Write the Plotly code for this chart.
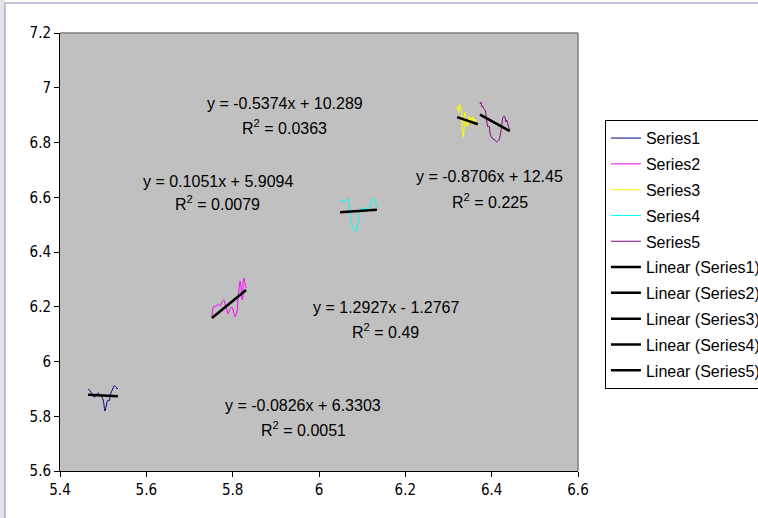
import plotly.graph_objects as go

# ---------------- data ----------------
series_names = ["Series1", "Series2", "Series3", "Series4", "Series5"]

x1 = [5.465, 5.470, 5.474, 5.479, 5.483, 5.488, 5.493, 5.497, 5.500, 5.502, 5.504, 5.507,
      5.509, 5.511, 5.514, 5.516, 5.518, 5.521, 5.523, 5.525, 5.530, 5.532, 5.534]
y1 = [5.900, 5.892, 5.881, 5.870, 5.874, 5.885, 5.878, 5.870, 5.859, 5.841, 5.819, 5.837,
      5.852, 5.859, 5.856, 5.874, 5.885, 5.896, 5.903, 5.911, 5.907, 5.900, 5.903]

x2 = [5.752, 5.754, 5.757, 5.761, 5.766, 5.771, 5.775, 5.780, 5.782, 5.787, 5.789, 5.794, 5.798,
      5.803, 5.805, 5.810, 5.812, 5.815, 5.817, 5.819, 5.822, 5.824, 5.824, 5.826, 5.829, 5.831]
y2 = [6.163, 6.192, 6.203, 6.199, 6.210, 6.203, 6.217, 6.225, 6.210, 6.188, 6.174, 6.192, 6.199,
      6.177, 6.163, 6.181, 6.225, 6.268, 6.294, 6.276, 6.225, 6.239, 6.287, 6.305, 6.283, 6.268]

x3 = [6.320, 6.322, 6.324, 6.327, 6.329, 6.331, 6.331, 6.334, 6.336, 6.336, 6.338, 6.341,
      6.343, 6.345, 6.347, 6.350, 6.352, 6.354, 6.357, 6.359, 6.361, 6.364, 6.366, 6.368]
y3 = [6.919, 6.933, 6.908, 6.941, 6.926, 6.901, 6.864, 6.820, 6.853, 6.890, 6.911, 6.857,
      6.882, 6.860, 6.897, 6.875, 6.890, 6.868, 6.893, 6.879, 6.886, 6.868, 6.871, 6.860]

x4 = [6.049, 6.053, 6.056, 6.060, 6.065, 6.067, 6.069, 6.072, 6.074, 6.076, 6.081, 6.086, 6.088, 6.093,
      6.095, 6.100, 6.102, 6.107, 6.111, 6.113, 6.118, 6.120, 6.123, 6.125, 6.127, 6.132, 6.134]
y4 = [6.590, 6.583, 6.590, 6.583, 6.594, 6.597, 6.579, 6.546, 6.524, 6.499, 6.480, 6.473, 6.488, 6.524,
      6.546, 6.561, 6.557, 6.561, 6.557, 6.561, 6.561, 6.579, 6.590, 6.597, 6.590, 6.572, 6.561]

x5 = [6.373, 6.375, 6.378, 6.380, 6.382, 6.385, 6.387, 6.389, 6.391, 6.394, 6.396, 6.398, 6.403, 6.408,
      6.412, 6.417, 6.419, 6.422, 6.424, 6.426, 6.429, 6.431, 6.433, 6.435, 6.438, 6.440, 6.442]
y5 = [6.941, 6.948, 6.930, 6.933, 6.922, 6.919, 6.897, 6.875, 6.857, 6.860, 6.838, 6.824, 6.813, 6.809,
      6.802, 6.809, 6.820, 6.846, 6.871, 6.890, 6.897, 6.890, 6.875, 6.882, 6.864, 6.853, 6.846]

trend_slopes = [-0.0826, 1.2927, -0.5374, 0.1051, -0.8706]
trend_intercepts = [6.3303, -1.2767, 10.289, 5.9094, 12.45]
trend_r2 = ["0.0051", "0.49", "0.0363", "0.0079", "0.225"]

x_tick_values = [5.4, 5.6, 5.8, 6.0, 6.2, 6.4, 6.6]
x_tick_labels = ["5.4", "5.6", "5.8", "6", "6.2", "6.4", "6.6"]
y_tick_values = [5.6, 5.8, 6.0, 6.2, 6.4, 6.6, 6.8, 7.0, 7.2]
y_tick_labels = ["5.6", "5.8", "6", "6.2", "6.4", "6.6", "6.8", "7", "7.2"]

# ---------------- styles ----------------
series_colors = ["#000080", "#FF00FF", "#FFFF00", "#00FFFF", "#800080"]
# label anchor (x, y of equation line, y of R² line) in data coordinates
label_anchors = [(5.963, 5.841, 5.753), (6.155, 6.199, 6.111), (5.921, 6.944, 6.857),
                 (5.766, 6.659, 6.579), (6.396, 6.674, 6.586)]

FONT = "Liberation Sans, Arial, sans-serif"
TICKFONT = "Liberation Sans Narrow, Arial Narrow, DejaVu Sans Condensed, Liberation Sans, sans-serif"

xs = [x1, x2, x3, x4, x5]
ys = [y1, y2, y3, y4, y5]

fig = go.Figure()

for i, name in enumerate(series_names):
    fig.add_trace(go.Scatter(
        x=xs[i], y=ys[i], mode="lines", name=name,
        line=dict(color=series_colors[i], width=1, shape="spline", smoothing=0.8),
        legendgroup=f"g{i}", hoverinfo="skip"))

for i, name in enumerate(series_names):
    lo, hi = min(xs[i]), max(xs[i])
    tx = [lo, hi]
    ty = [trend_slopes[i] * v + trend_intercepts[i] for v in tx]
    fig.add_trace(go.Scatter(
        x=tx, y=ty, mode="lines", name=f"Linear ({name})",
        line=dict(color="black", width=2.5),
        legendgroup=f"t{i}", hoverinfo="skip"))


def eq_text(s, b):
    sign = "+" if b >= 0 else "-"
    return f"y = {s}x {sign} {abs(b)}"


annotations = []
for i in range(5):
    ax, ay1, ay2 = label_anchors[i]
    annotations.append(dict(x=ax, y=ay1, xref="x", yref="y", showarrow=False,
                            text=eq_text(trend_slopes[i], trend_intercepts[i]),
                            font=dict(family=FONT, size=16, color="black"),
                            xanchor="center", yanchor="middle"))
    annotations.append(dict(x=ax, y=ay2, xref="x", yref="y", showarrow=False,
                            text=f"R<sup>2</sup> = {trend_r2[i]}",
                            font=dict(family=FONT, size=16, color="black"),
                            xanchor="center", yanchor="middle"))

shapes = [
    # grey strip at far left of the window
    dict(type="rect", xref="paper", yref="paper", x0=-0.13, x1=-0.1062, y0=-0.2, y1=1.2,
         fillcolor="#e4e4e4", line=dict(width=0), layer="below"),
    # outer chart frame (left and top edges)
    dict(type="line", xref="paper", yref="paper", x0=-0.1062, x1=-0.1062, y0=-0.2, y1=1.0685,
         line=dict(color="#8888bb", width=1)),
    dict(type="line", xref="paper", yref="paper", x0=-0.1062, x1=1.4, y0=1.0685, y1=1.0685,
         line=dict(color="#8888bb", width=1)),
    # plot area border (top and right)
    dict(type="line", xref="paper", yref="paper", x0=0, x1=1, y0=1, y1=1,
         line=dict(color="#808080", width=1.5)),
    dict(type="line", xref="paper", yref="paper", x0=1, x1=1, y0=0, y1=1,
         line=dict(color="#808080", width=1.5)),
]

axis_common = dict(showgrid=False, zeroline=False, showline=True, linecolor="black",
                   linewidth=1, ticks="outside", ticklen=5, tickcolor="black",
                   tickfont=dict(family=TICKFONT, size=15, color="black"), fixedrange=True)

fig.update_layout(
    width=758, height=518,
    margin=dict(l=60, r=180, t=33, b=47, autoexpand=False),
    paper_bgcolor="white", plot_bgcolor="#C0C0C0",
    xaxis=dict(range=[5.4, 6.6], tickmode="array", tickvals=x_tick_values,
               ticktext=x_tick_labels, **axis_common),
    yaxis=dict(range=[5.6, 7.2], tickmode="array", tickvals=y_tick_values,
               ticktext=y_tick_labels, **axis_common),
    showlegend=True,
    legend=dict(x=1.052, y=0.801, xanchor="left", yanchor="top",
                bgcolor="white", bordercolor="black", borderwidth=1,
                font=dict(family=FONT, size=16, color="black"),
                itemwidth=30, tracegroupgap=2, traceorder="grouped"),
    annotations=annotations,
    shapes=shapes,
    hovermode=False,
)

fig.write_html("out.html", config={"displayModeBar": False})
